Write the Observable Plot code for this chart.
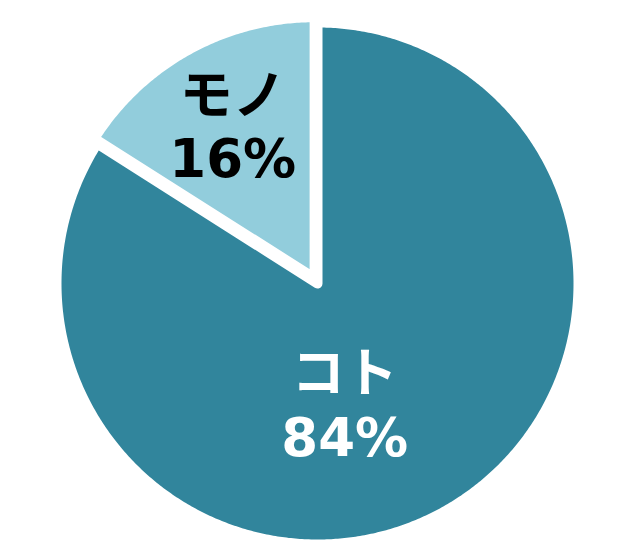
<!DOCTYPE html>
<html>
<head>
<meta charset="utf-8">
<script src="https://cdn.jsdelivr.net/npm/d3@7"></script>
<script src="https://cdn.jsdelivr.net/npm/@observablehq/plot@0.6"></script>
<style>
  html, body { margin: 0; padding: 0; background: #ffffff; }
  #chart svg { display: block; }
</style>
</head>
<body>
<div id="chart"></div>
<script>
// ---- data ----
const categories = ["コト", "モノ"];
const values = [84, 16];
const colors = ["#31859C", "#92CDDC"];
const labelColors = ["#ffffff", "#000000"];

// ---- layout (pixels-as-units) ----
const W = 640, H = 558;
const R = 261;                 // path radius; white stroke eats into it
const explode = [0, 6];        // outward offset of each slice
const labelRadius = [127, 176];
const labelShift = [[-34, 9], [0, -4]]; // [dx, dy] screen px

const pie = d3.pie().sort(null).startAngle(0).endAngle(2 * Math.PI)(values);

const slicePts = [];
const labels = [];
pie.forEach((a, i) => {
  const mid = (a.startAngle + a.endAngle) / 2;
  const ox = Math.sin(mid) * explode[i];
  const oy = Math.cos(mid) * explode[i];
  const cat = categories[i];
  slicePts.push({cat, x: ox, y: oy});
  const n = Math.max(2, Math.ceil((a.endAngle - a.startAngle) / (Math.PI / 360)));
  for (let k = 0; k <= n; k++) {
    const t = a.startAngle + (a.endAngle - a.startAngle) * k / n;
    slicePts.push({cat, x: ox + Math.sin(t) * R, y: oy + Math.cos(t) * R});
  }
  slicePts.push({cat, x: ox, y: oy});
  labels.push({
    cat,
    text: `${cat}\n${values[i]}%`,
    x: Math.sin(mid) * labelRadius[i],
    y: Math.cos(mid) * labelRadius[i],
    dx: labelShift[i][0],
    dy: labelShift[i][1],
    color: labelColors[i]
  });
});

const chart = Plot.plot({
  width: W,
  height: H,
  margin: 0,
  x: {domain: [-317, W - 317], axis: null},
  y: {domain: [283 - H, 283], axis: null},
  color: {domain: categories, range: colors},
  style: {background: "#ffffff"},
  marks: [
    Plot.line(slicePts, {
      x: "x", y: "y", z: "cat", fill: "cat",
      stroke: "#ffffff", strokeWidth: 10, strokeLinejoin: "round", strokeLinecap: "round"
    }),
    ...labels.map(l => Plot.text([l], {
      x: "x", y: "y", text: "text",
      dx: l.dx, dy: l.dy,
      fill: l.color,
      fontSize: 53, fontWeight: "bold",
      fontFamily: "'DejaVu Sans', 'Noto Sans CJK JP', sans-serif",
      lineHeight: 1.2, lineAnchor: "middle", textAnchor: "middle"
    }))
  ]
});
document.getElementById("chart").appendChild(chart);
</script>
</body>
</html>
